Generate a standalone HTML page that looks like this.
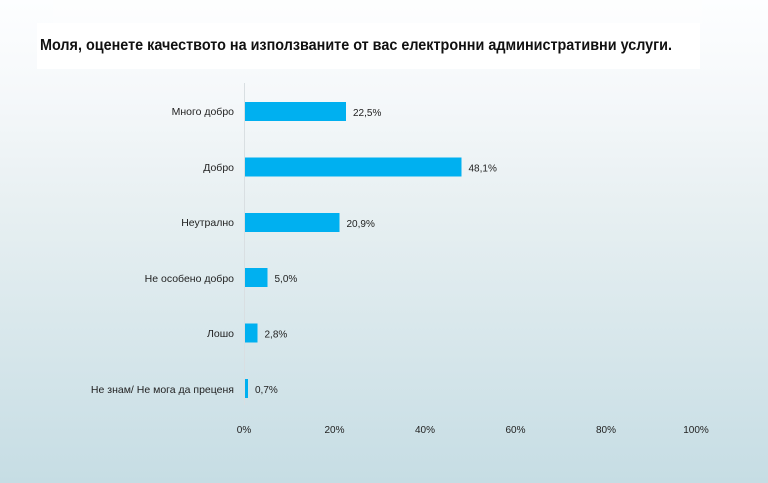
<!DOCTYPE html>
<html>
<head>
<meta charset="utf-8">
<style>
html,body{margin:0;padding:0;width:768px;height:483px;overflow:hidden;}
svg{display:block;}
text{font-family:"Liberation Sans","Noto Sans CJK SC",sans-serif;fill:#222;}
</style>
</head>
<body>
<svg width="768" height="483" viewBox="0 0 768 483" xmlns="http://www.w3.org/2000/svg">
<defs>
<linearGradient id="bg" x1="0" y1="0" x2="0" y2="1">
<stop offset="0" stop-color="#fdfeff"/>
<stop offset="0.2" stop-color="#f5f8fa"/>
<stop offset="0.42" stop-color="#e8f0f2"/>
<stop offset="1" stop-color="#c6dde4"/>
</linearGradient>
</defs>
<rect x="0" y="0" width="768" height="483" fill="url(#bg)"/>
<rect x="53" y="0" width="649" height="24" fill="#fefefe" opacity="0.5"/>
<rect x="37" y="23" width="663" height="46" fill="#ffffff"/>
<text x="40" y="50" font-size="16" font-weight="bold" textLength="632" lengthAdjust="spacingAndGlyphs" style="fill:#111">Моля, оценете качеството на използваните от вас електронни административни услуги.</text>

<line x1="244.5" y1="83" x2="244.5" y2="405" stroke="#d9dfe2" stroke-width="1"/>

<g font-size="10.5">
<text x="234" y="115" text-anchor="end">Много добро</text>
<text x="234" y="171" text-anchor="end">Добро</text>
<text x="234" y="226" text-anchor="end">Неутрално</text>
<text x="234" y="282" text-anchor="end">Не особено добро</text>
<text x="234" y="337" text-anchor="end">Лошо</text>
<text x="234" y="393" text-anchor="end">Не знам/ Не мога да преценя</text>
</g>

<g fill="#00b0f0">
<rect x="245" y="102" width="101" height="19"/>
<rect x="245" y="157.5" width="216.5" height="19"/>
<rect x="245" y="213" width="94.5" height="19"/>
<rect x="245" y="268" width="22.5" height="19"/>
<rect x="245" y="323.5" width="12.5" height="19"/>
<rect x="245" y="379" width="3" height="19"/>
</g>

<g font-size="10">
<text x="353" y="116">22,5%</text>
<text x="468.5" y="171.5">48,1%</text>
<text x="346.5" y="227">20,9%</text>
<text x="274.5" y="282">5,0%</text>
<text x="264.5" y="337.5">2,8%</text>
<text x="255" y="393">0,7%</text>
</g>

<g font-size="10" text-anchor="middle">
<text x="244" y="433">0%</text>
<text x="334.5" y="433">20%</text>
<text x="425" y="433">40%</text>
<text x="515.5" y="433">60%</text>
<text x="606" y="433">80%</text>
<text x="696" y="433">100%</text>
</g>
</svg>
</body>
</html>
